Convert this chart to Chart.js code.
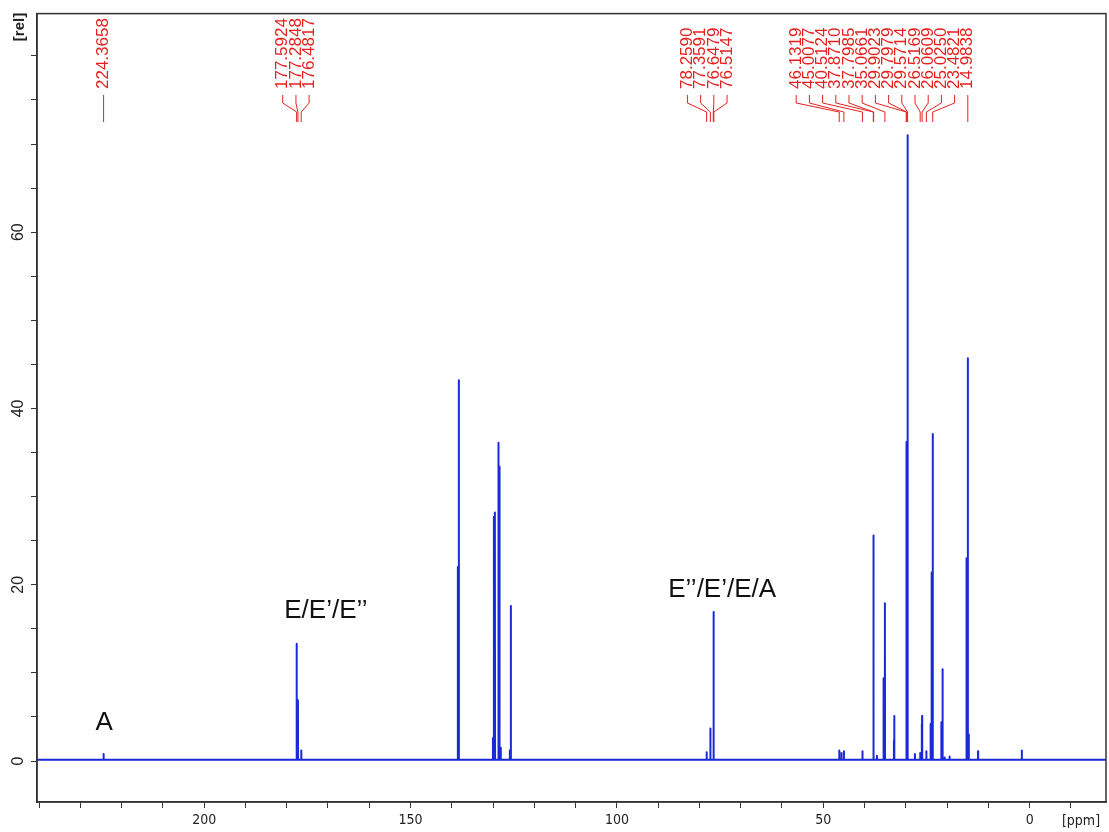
<!DOCTYPE html>
<html>
<head>
<meta charset="utf-8">
<script src="https://cdn.jsdelivr.net/npm/chart.js@4/dist/chart.umd.min.js"></script>
<style>
html, body { margin: 0; padding: 0; background: #fff; }
</style>
</head>
<body>
<canvas id="spectrum" width="1109" height="832"></canvas>
<script>
// peaks: position (ppm) and height (rel)
var peakPpm = [224.37, 177.59, 177.28, 176.48, 138.55, 138.30, 130.05, 129.80, 129.55, 128.70,
               128.45, 128.15, 125.95, 125.70, 78.26, 77.36, 76.65, 76.51, 46.13, 45.60,
               45.01, 40.51, 37.87, 37.80, 37.00, 35.40, 35.07, 32.90, 32.80, 29.90,
               29.80, 29.57, 27.80, 26.52, 26.15, 26.06, 25.03, 24.00, 23.75, 23.48,
               21.40, 21.10, 20.60, 19.40, 15.30, 14.98, 14.75, 12.50, 1.90];
var peakRel = [0.8, 13.3, 6.9, 1.2, 22.0, 43.2, 2.6, 27.7, 28.2, 36.1,
               33.4, 1.5, 1.2, 17.6, 1.0, 3.7, 9.0, 16.9, 1.2, 0.9,
               1.1, 1.1, 15.7, 25.6, 0.6, 9.4, 17.9, 2.3, 5.1, 9.8,
               36.2, 71.0, 0.8, 0.9, 4.2, 5.1, 1.1, 4.2, 21.4, 37.1,
               4.4, 10.4, 0.4, 0.5, 23.0, 45.7, 3.0, 1.1, 1.2];
var baseline = 0.15;

// picked peaks printed in red along the top
var pickedPpm = [224.3658, 177.5924, 177.2848, 176.4817, 78.2590, 77.3591, 76.6479, 76.5147,
                 46.1319, 45.0077, 40.5124, 37.8710, 37.7985, 35.0661, 29.9023, 29.7979,
                 29.5714, 26.5169, 26.0609, 25.0250, 23.4821, 14.9838];

var xTicks = [240, 230, 220, 210, 200, 190, 180, 170, 160, 150, 140, 130, 120, 110, 100,
              90, 80, 70, 60, 50, 40, 30, 20, 10, 0, -10];
var xTickLabels = [200, 150, 100, 50, 0];
var yTicks = [0, 5, 10, 15, 20, 25, 30, 35, 40, 45, 50, 55, 60, 65, 70, 75, 80];
var yTickLabels = [0, 20, 40, 60];

var noteText = ['A', 'E/E\u2019/E\u2019\u2019', 'E\u2019\u2019/E\u2019/E/A'];
var notePpm = [224.2, 170.5, 74.5];
var noteRel = [3.5, 16.2, 18.6];

// spectrum trace: flat baseline with a narrow spike per peak
var spikeHalf = 0.03;
var trace = [{ x: 240.5, y: baseline }];
for (var i = 0; i < peakPpm.length; i++) {
    trace.push({ x: peakPpm[i] + spikeHalf, y: baseline });
    trace.push({ x: peakPpm[i], y: peakRel[i] });
    trace.push({ x: peakPpm[i] - spikeHalf, y: baseline });
}
trace.push({ x: -18.5, y: baseline });

var annotations = {
    id: 'annotations',
    afterDraw: function(chart) {
        var ctx = chart.ctx;
        var xs = chart.scales.x, ys = chart.scales.y;
        var area = chart.chartArea;
        ctx.save();

        // frame round the plot
        ctx.strokeStyle = '#333';
        ctx.lineWidth = 1.5;
        ctx.strokeRect(area.left, area.top, area.right - area.left, area.bottom - area.top);

        // peak picking labels: group close peaks, space labels evenly
        var gap = 13.2;
        var px = pickedPpm.map(function(p) { return xs.getPixelForValue(p); });
        var groups = [];
        px.forEach(function(x, k) {
            var g = groups[groups.length - 1];
            if (g && x - px[k - 1] < 2 * gap) g.push(k); else groups.push([k]);
        });
        var lx = [];
        groups.forEach(function(g) {
            var mid = (px[g[0]] + px[g[g.length - 1]]) / 2;
            if (g.length > 1) mid -= 3;
            g.forEach(function(k, j) { lx[k] = mid + (j - (g.length - 1) / 2) * gap; });
        });
        for (var k = lx.length - 2; k >= 0; k--) {
            lx[k] = Math.min(lx[k], lx[k + 1] - gap);
        }
        ctx.strokeStyle = '#e3221f';
        ctx.fillStyle = '#e3221f';
        ctx.lineWidth = 1;
        ctx.font = '17px "Liberation Sans", Arial, sans-serif';
        ctx.textAlign = 'left';
        ctx.textBaseline = 'middle';
        pickedPpm.forEach(function(p, k) {
            ctx.save();
            ctx.translate(lx[k], 89);
            ctx.rotate(-Math.PI / 2);
            ctx.fillText(p.toFixed(4), 0, 0);
            ctx.restore();
            ctx.beginPath();
            ctx.moveTo(lx[k], 95);
            ctx.lineTo(lx[k], 103);
            ctx.lineTo(px[k], 112);
            ctx.lineTo(px[k], 122);
            ctx.stroke();
        });

        // region notes
        ctx.fillStyle = '#111';
        ctx.font = '26px "Liberation Sans", Arial, sans-serif';
        ctx.textAlign = 'center';
        ctx.textBaseline = 'alphabetic';
        noteText.forEach(function(t, k) {
            ctx.fillText(t, xs.getPixelForValue(notePpm[k]), ys.getPixelForValue(noteRel[k]));
        });

        // axis units
        ctx.fillStyle = '#222';
        ctx.font = '14px "DejaVu Sans Condensed", "DejaVu Sans", sans-serif';
        ctx.textAlign = 'center';
        ctx.textBaseline = 'top';
        ctx.fillText('[ppm]', 1081, xs.top + 12);
        ctx.save();
        ctx.translate(20, 27);
        ctx.rotate(-Math.PI / 2);
        ctx.font = 'bold 15px "Liberation Sans", Arial, sans-serif';
        ctx.textBaseline = 'middle';
        ctx.fillText('[rel]', 0, 0);
        ctx.restore();

        ctx.restore();
    }
};

window.onload = function() {
    var ctx = document.getElementById('spectrum').getContext('2d');
    window.nmrChart = new Chart(ctx, {
        type: 'line',
        data: {
            datasets: [{
                data: trace,
                borderColor: '#1a2ad8',
                borderWidth: 2,
                borderJoinStyle: 'round',
                pointRadius: 0,
                tension: 0,
                fill: false
            }]
        },
        options: {
            responsive: false,
            animation: false,
            events: [],
            layout: { padding: { top: 13, right: 3, left: 0, bottom: 0 } },
            plugins: { legend: { display: false }, tooltip: { enabled: false } },
            scales: {
                x: {
                    type: 'linear',
                    reverse: true,
                    min: -18.5,
                    max: 240.5,
                    afterBuildTicks: function(s) { s.ticks = xTicks.map(function(v) { return { value: v }; }); },
                    afterFit: function(s) { s.height = 30; },
                    ticks: {
                        autoSkip: false,
                        maxRotation: 0,
                        padding: 4,
                        color: '#222',
                        font: { family: '"DejaVu Sans Condensed", "DejaVu Sans", sans-serif', size: 14 },
                        callback: function(v) { return xTickLabels.indexOf(v) >= 0 ? String(v) : ''; }
                    },
                    grid: { drawOnChartArea: false, tickLength: 6, color: '#333' },
                    border: { color: '#333', width: 1.5 }
                },
                y: {
                    min: -4.65,
                    max: 84.8,
                    afterBuildTicks: function(s) { s.ticks = yTicks.map(function(v) { return { value: v }; }); },
                    afterFit: function(s) { s.width = 37; },
                    ticks: {
                        autoSkip: false,
                        minRotation: 90,
                        maxRotation: 90,
                        crossAlign: 'center',
                        padding: 4,
                        color: '#222',
                        font: { family: '"Liberation Sans", Arial, sans-serif', size: 16 },
                        callback: function(v) { return yTickLabels.indexOf(v) >= 0 ? String(v) : ''; }
                    },
                    grid: { drawOnChartArea: false, tickLength: 6, color: '#333' },
                    border: { color: '#333', width: 1.5 }
                }
            }
        },
        plugins: [annotations]
    });
};
</script>
</body>
</html>
